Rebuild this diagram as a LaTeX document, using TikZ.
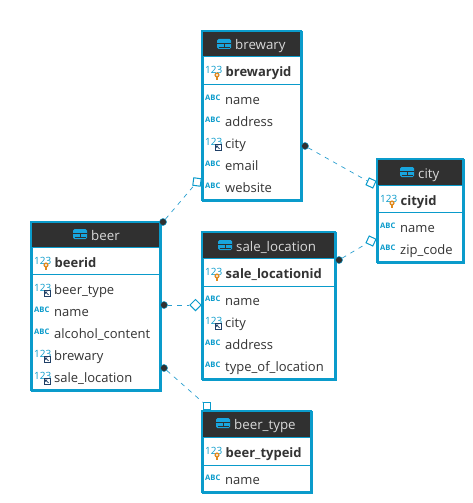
\documentclass[tikz,border=0pt]{standalone}
\usepackage{fontspec}
\setmainfont{Open Sans}
\usetikzlibrary{shapes.geometric}
\definecolor{edge}{HTML}{0A9BCB}
\definecolor{head}{HTML}{303030}
\definecolor{ink}{HTML}{333333}
\definecolor{link}{HTML}{2A9FD0}
\definecolor{navy}{HTML}{1F3F66}
\definecolor{keyc}{HTML}{E08A1E}
\definecolor{tabc}{HTML}{18A5DE}
\tikzset{
  x=1pt,y=-1pt,
  entbox/.style={draw=edge,line width=2pt,fill=white,rectangle,inner sep=0pt,anchor=north west},
  headbox/.style={fill=head,rectangle,inner sep=0pt,anchor=north west},
  headtxt/.style={text=white!85!black,font=\fontsize{13.3}{14}\selectfont,anchor=base west,inner sep=0pt},
  rowtxt/.style={text=ink,font=\fontsize{13}{14}\selectfont,anchor=base west,inner sep=0pt},
  keytxt/.style={text=ink,font=\fontsize{13}{14}\selectfont\bfseries,anchor=base west,inner sep=0pt},
  numi/.style={text=edge,font=\fontsize{10}{10}\selectfont,anchor=base west,inner sep=0pt},
  abci/.style={text=edge,font=\fontsize{7.6}{8}\selectfont\bfseries,anchor=base west,inner sep=0pt},
  dotm/.style={circle,fill=head,draw=edge,line width=.5pt,minimum size=7pt,inner sep=0pt},
  squarem/.style={rectangle,draw=edge,fill=white,line width=1pt,minimum size=7.5pt,inner sep=0pt},
  diamondm/.style={diamond,draw=edge,fill=white,line width=1pt,minimum size=11.5pt,inner sep=0pt},
  rel/.style={draw=link,line width=.7pt,dash pattern=on 4.5pt off 5pt},
}
\newcommand{\entity}[9]{%
  \node[entbox,minimum width={#4-#2},minimum height={#5-#3}] (#1) at (#2,#3) {};
  \node[headbox,minimum width={#4-#2},minimum height={#6-#3}] (#1-head) at (#2,#3) {};
  \draw[edge,line width=1pt] (#2,#7) -- (#4,#7);
  \draw[edge,line width=1pt] (#2,#6) -- (#4,#6);
  \draw[edge,line width=2pt] (#2,#3) rectangle (#4,#5);
  \fill[tabc,rounded corners=1.5pt] (#8-18,#9-11) rectangle (#8-4,#9-1);
  \draw[head,line width=.8pt] (#8-18,#9-6.5) -- (#8-4,#9-6.5);
  \draw[head,line width=.8pt] (#8-11,#9-6.5) -- (#8-11,#9-2);
  \draw[head,line width=.6pt] (#8-16.5,#9-2.5) -- (#8-5.5,#9-2.5);
}
\newcommand{\keyrow}[4]{%
  \node[numi] (#1-n) at (#2+3,#3-3) {123};
  \fill[keyc] (#2+15,#3-2) circle (2.6pt);
  \fill[white] (#2+15,#3-2) circle (1.2pt);
  \draw[keyc,line width=1.2pt] (#2+15,#3) -- (#2+15,#3+2.5);
  \node[keytxt] (#1-t) at (#2+23.5,#3) {#4};
}
\newcommand{\abcrow}[4]{%
  \node[abci] (#1-i) at (#2+3,#3-3.5) {ABC};
  \node[rowtxt] (#1-t) at (#2+23,#3) {#4};
}
\newcommand{\fkrow}[4]{%
  \node[numi] (#1-n) at (#2+3,#3-3) {123};
  \fill[white] (#2+12.5,#3-4) rectangle (#2+19.5,#3+2.5);
  \draw[navy,line width=.9pt] (#2+13,#3-3.5) rectangle (#2+19,#3+2);
  \draw[navy,line width=.8pt] (#2+14.5,#3-2) -- (#2+17.5,#3+.8);
  \fill[navy] (#2+14,#3-2.5) -- (#2+16.5,#3-2.5) -- (#2+14,#3) -- cycle;
  \node[rowtxt] (#1-t) at (#2+23,#3) {#4};
}
\begin{document}
\begin{tikzpicture}
\useasboundingbox (0,0) rectangle (473,503);
\fill[white] (0,0) rectangle (473,503);
% brewary
\entity{brewary}{202}{31}{301}{200}{57}{84}{235}{50}
\node[headtxt] (brewary-t) at (235,50) {brewary};
\keyrow{bk}{202}{77}{brewaryid}
\abcrow{b1}{202}{104}{name}
\abcrow{b2}{202}{126}{address}
\fkrow{b3}{202}{148}{city}
\abcrow{b4}{202}{170}{email}
\abcrow{b5}{202}{192}{website}
% beer
\entity{beer}{31}{222}{160}{390}{247}{274}{91}{240}
\node[headtxt] (beer-t) at (91,240) {beer};
\keyrow{ek}{31}{267}{beerid}
\fkrow{e1}{31}{294}{beer\_type}
\abcrow{e2}{31}{316}{name}
\abcrow{e3}{31}{338}{alcohol\_content}
\fkrow{e4}{31}{360}{brewary}
\fkrow{e5}{31}{382}{sale\_location}
% city
\entity{city}{377}{159}{463}{262}{185}{212}{418}{178}
\node[headtxt] (city-t) at (418,178) {city};
\keyrow{ck}{377}{205}{cityid}
\abcrow{c1}{377}{232}{name}
\abcrow{c2}{377}{254}{zip\_code}
% sale_location
\entity{sale}{202}{232}{335}{379}{258}{286}{236}{251}
\node[headtxt] (sale-t) at (236,251) {sale\_location};
\keyrow{sk}{202}{278}{sale\_locationid}
\abcrow{s1}{202}{305}{name}
\fkrow{s2}{202}{327}{city}
\abcrow{s3}{202}{349}{address}
\abcrow{s4}{202}{371}{type\_of\_location}
% beer_type
\entity{btype}{202}{411}{311}{492}{437}{465}{234}{429}
\node[headtxt] (btype-t) at (234,429) {beer\_type};
\keyrow{tk}{202}{457}{beer\_typeid}
\abcrow{t1}{202}{484}{name}
% markers
\node[dotm] (d1) at (305,146) {};
\node[squarem,rotate=-25] (q1) at (371,183) {};
\node[dotm] (d2) at (163,222) {};
\node[squarem,rotate=-8] (q2) at (197,182) {};
\node[dotm] (d3) at (164,305) {};
\node[diamondm] (q3) at (195.5,305) {};
\node[dotm] (d4) at (164,368) {};
\node[squarem] (q4) at (207,406) {};
\node[dotm] (d5) at (339,260) {};
\node[squarem,rotate=-25] (q5) at (371,241) {};
\draw[rel] (d1) -- (q1);
\draw[rel] (d2) -- (q2);
\draw[rel] (d3) -- (q3);
\draw[rel] (d4) -- (q4);
\draw[rel] (d5) -- (q5);
\end{tikzpicture}
\end{document}
